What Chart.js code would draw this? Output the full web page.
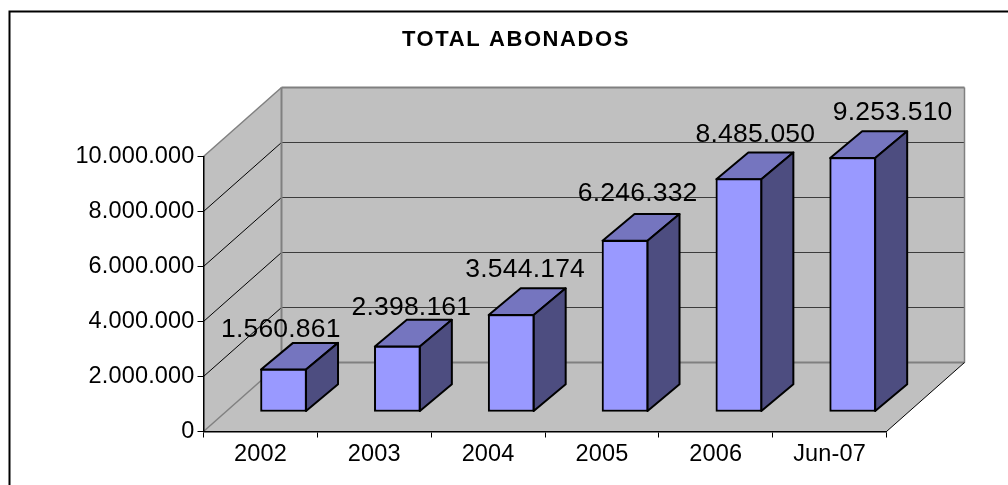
<!DOCTYPE html>
<html><head><meta charset="utf-8">
<style>html,body{margin:0;padding:0;background:#fff}canvas{display:block}</style>
<script src="https://cdn.jsdelivr.net/npm/chart.js@4/dist/chart.umd.min.js"></script>
</head><body><canvas id="c" width="1008" height="485"></canvas>
<script>
const categories = ['2002','2003','2004','2005','2006','Jun-07'];
const subscribers = [1560861,2398161,3544174,6246332,8485050,9253510];
const chartTitle = 'TOTAL ABONADOS';
const yTicksMax = 10000000;
const yTickStep = 2000000;
// hand-placed label nudges in the original (from the bar's front-top centre)
const labelNudgeX = [-2.7,14,14,12.7,16.5,40];
const labelNudgeY = [-39,-38,-44,-46,-43,-44];

const FONT = '"Liberation Sans", Arial, sans-serif';
const WALL = {dx:78, dy:-69};
const BAR_OFF = {dx:23.1, dy:-19.5};
const BAR_DEPTH = {dx:32, dy:-26.7};
const TITLE_CENTRE = 516;
const fmt = v => String(v).replace(/\B(?=(\d{3})+(?!\d))/g,'.');
const poly = (ctx,pts,fill,stroke,lw) => {
  ctx.beginPath(); pts.forEach((p,i)=> i?ctx.lineTo(p[0],p[1]):ctx.moveTo(p[0],p[1])); ctx.closePath();
  if(fill){ctx.fillStyle=fill;ctx.fill();}
  if(stroke){ctx.strokeStyle=stroke;ctx.lineWidth=lw;ctx.lineJoin='round';ctx.stroke();}
};
const seg = (ctx,a,b,c,lw) => {ctx.beginPath();ctx.moveTo(a[0],a[1]);ctx.lineTo(b[0],b[1]);ctx.strokeStyle=c;ctx.lineWidth=lw;ctx.stroke();};

const scene3d = {
  id:'scene3d',
  afterLayout(chart){
    const t = chart.titleBlock;
    if(t && !t._patched){
      const d = t.draw.bind(t);
      t.draw = () => {
        const ctx = chart.ctx;
        ctx.save();
        ctx.translate(TITLE_CENTRE-(t.left+t.right)/2,0);
        ctx.letterSpacing='1.6px';
        d();
        ctx.restore();
      };
      t._patched = true;
    }
  },
  beforeDraw(chart){
    const ctx = chart.ctx, a = chart.chartArea, y = chart.scales.y;
    ctx.letterSpacing='0.15px';
    ctx.save();
    // outer frame, cut by the image's right and bottom edges
    ctx.strokeStyle='#000'; ctx.lineWidth=2;
    ctx.beginPath(); ctx.moveTo(9.5,490); ctx.lineTo(9.5,11.5); ctx.lineTo(1010,11.5); ctx.stroke();
    const L=a.left,R=a.right,T=a.top,B=a.bottom,dx=WALL.dx,dy=WALL.dy;
    // floor, left wall, back wall
    poly(ctx,[[L,B],[R,B],[R+dx,B+dy],[L+dx,B+dy]],'#C0C0C0');
    poly(ctx,[[L,B],[L+dx,B+dy],[L+dx,T+dy],[L,T]],'#C0C0C0');
    poly(ctx,[[L+dx,B+dy],[R+dx,B+dy],[R+dx,T+dy],[L+dx,T+dy]],'#C0C0C0');
    // gridlines from the value scale
    y.ticks.forEach(t=>{
      const py=y.getPixelForValue(t.value);
      if(t.value>0 && t.value<yTicksMax){
        seg(ctx,[L,py],[L+dx,py+dy],'#000',1);
        seg(ctx,[L+dx,py+dy],[R+dx,py+dy],'#3c3c3c',1.2);
      }
    });
    const e='#808080';
    seg(ctx,[L,B],[L+dx,B+dy],e,1.5);
    seg(ctx,[L+dx,B+dy],[R+dx,B+dy],e,2);
    seg(ctx,[L+dx,B+dy],[L+dx,T+dy],e,2);
    seg(ctx,[L,T],[L+dx,T+dy],e,1.5);
    seg(ctx,[L+dx,T+dy],[R+dx,T+dy],e,2);
    seg(ctx,[R+dx,T+dy],[R+dx,B+dy],e,1.5);
    seg(ctx,[R,B],[R+dx,B+dy],'#000',1);
    ctx.restore();
  },
  beforeDatasetsDraw(chart){
    const ctx = chart.ctx;
    ctx.save();
    ctx.translate(BAR_OFF.dx,BAR_OFF.dy);
    chart.getDatasetMeta(0).data.forEach(b=>{
      const l=b.x-b.width/2+0.5,r=b.x+b.width/2-0.5,t=b.y+0.5,bt=b.base-0.5,ox=BAR_DEPTH.dx,oy=BAR_DEPTH.dy;
      poly(ctx,[[l,t],[r,t],[r+ox,t+oy],[l+ox,t+oy]],'#7575BF','#000',2);
      poly(ctx,[[r,t],[r+ox,t+oy],[r+ox,bt+oy],[r,bt]],'#4D4D80','#000',2);
    });
  },
  afterDatasetsDraw(chart){
    const ctx = chart.ctx;
    ctx.restore();
    ctx.save();
    ctx.letterSpacing='0.2px';
    ctx.font='26.5px '+FONT; ctx.fillStyle='#000'; ctx.textAlign='center'; ctx.textBaseline='middle';
    chart.getDatasetMeta(0).data.forEach((b,i)=>{
      ctx.fillText(fmt(subscribers[i]), b.x+BAR_OFF.dx+labelNudgeX[i], b.y-20+labelNudgeY[i]);
    });
    ctx.restore();
  }
};

new Chart(document.getElementById('c'),{
  type:'bar',
  data:{labels:categories,datasets:[{data:subscribers,backgroundColor:'#9999FF',borderColor:'#000',borderWidth:2,borderSkipped:false,barThickness:46,clip:false}]},
  plugins:[scene3d],
  options:{
    responsive:false,animation:false,
    layout:{padding:{left:20,right:121.5,top:0,bottom:0}},
    plugins:{
      legend:{display:false},tooltip:{enabled:false},
      title:{display:true,text:chartTitle,color:'#000',font:{family:FONT,size:22,weight:'bold',lineHeight:1.2},padding:{top:27,bottom:103.1}}
    },
    scales:{
      x:{
        afterFit:s=>{s.height=485-431.5;},
        grid:{drawOnChartArea:false,drawTicks:true,tickLength:6,tickColor:'#000',tickWidth:1},
        border:{color:'#000',width:1.5},
        ticks:{color:'#000',font:{family:FONT,size:23.5},padding:3,maxRotation:0,autoSkip:false}
      },
      y:{
        min:0,max:yTicksMax,
        afterFit:s=>{s.width=183.5;},
        grid:{drawOnChartArea:false,drawTicks:true,tickLength:6,tickColor:'#000',tickWidth:1},
        border:{color:'#000',width:1.5},
        ticks:{stepSize:yTickStep,color:'#000',font:{family:FONT,size:23.5},padding:3,callback:v=>fmt(v)}
      }
    }
  }
});
</script></body></html>
